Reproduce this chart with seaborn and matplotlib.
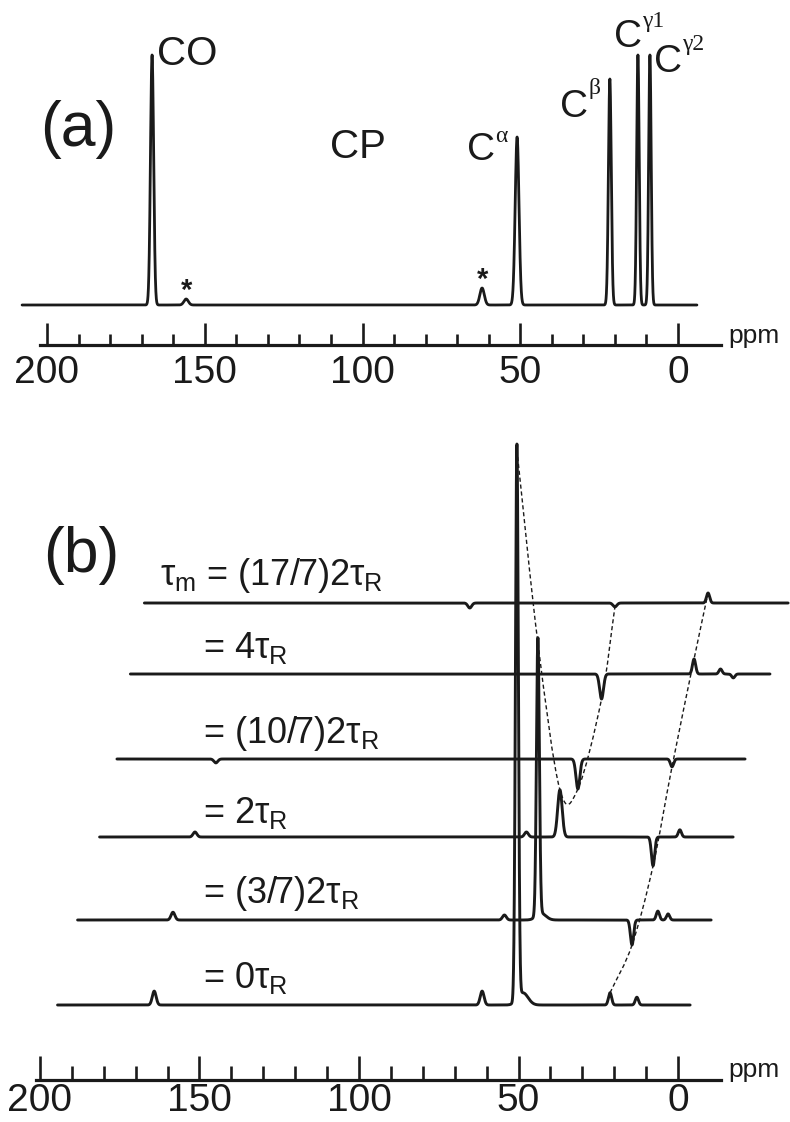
import numpy as np
import pandas as pd
import matplotlib
matplotlib.use("Agg")
import matplotlib.pyplot as plt
import seaborn as sns
from matplotlib.path import Path
from matplotlib.patches import PathPatch
from matplotlib.ticker import FixedLocator, FixedFormatter

# ---------------- data: panel (a) CP spectrum ----------------
cp_peak_ppm    = [166.7, 155.9, 62.1, 51.0, 21.6, 12.7, 8.9]
cp_peak_height = [1.000, 0.024, 0.068, 0.672, 0.904, 1.000, 1.000]
cp_peak_width  = [0.50, 0.70, 0.70, 0.60, 0.45, 0.40, 0.40]
cp_range_ppm   = [207.9, -6.0]
site_base      = ["CO", "C", "C", "C", "C"]
site_sup       = ["", "\u03b1", "\u03b2", "\u03b31", "\u03b32"]
site_peak_idx  = [0, 3, 4, 5, 6]
sideband_idx   = [1, 2]

# ---------------- data: panel (b) mixing-time series ----------------
mix_labels = [r"= 0$\tau_\mathrm{R}$",
              r"= (3/7)2$\tau_\mathrm{R}$",
              r"= 2$\tau_\mathrm{R}$",
              r"= (10/7)2$\tau_\mathrm{R}$",
              r"= 4$\tau_\mathrm{R}$",
              r"$\tau_\mathrm{m}$ = (17/7)2$\tau_\mathrm{R}$"]
mix_peak_ppm = [
    [164.2, 61.4, 50.5, 48.6, 21.3, 12.9],
    [164.9, 61.0, 50.5, 49.5, 21.0, 12.9, 9.7],
    [164.9, 61.0, 50.5, 21.3, 12.9],
    [164.0, 50.5, 21.0],
    [50.3, 21.3, 13.0, 9.0],
    [96.0, 50.5, 21.3],
]
mix_peak_int = [
    [0.025, 0.025, 1.000, 0.022, 0.022, 0.014],
    [0.014, 0.009, 0.499, 0.012, -0.045, 0.016, 0.011],
    [0.009, 0.009, 0.085, -0.052, 0.013],
    [-0.007, -0.054, -0.014],
    [-0.045, 0.027, 0.009, -0.007],
    [-0.009, -0.007, 0.018],
]
mix_peak_width = [
    [0.6, 0.6, 0.45, 1.6, 0.5, 0.5],
    [0.6, 0.6, 0.45, 1.5, 0.5, 0.5, 0.5],
    [0.6, 0.6, 0.70, 0.5, 0.5],
    [0.6, 0.6, 0.5],
    [0.6, 0.5, 0.5, 0.5],
    [0.6, 0.6, 0.5],
]
mix_range_ppm = [[194.5, -3.8], [194.8, -3.8], [194.8, -3.8],
                 [195.0, -1.9], [198.0, -2.5], [198.0, -3.8]]
ca_ppm, cb_ppm = 50.5, 21.3   # peaks followed by the dashed guides

axis_major = [200, 150, 100, 50, 0]
axis_major_labels = ["200", "150", "100", "50", "0"]
axis_minor = list(range(0, 201, 10))

# ---------------- layout (pixels) ----------------
W, H = 790, 1122
trace_base_px = [1005, 920, 837, 759, 674, 603]
trace_shift_px = [0, 21, 43, 61, 84, 98]
label_base_px = [988, 903, 823, 743, 658, 585]
label_left_px = [203, 203, 203, 203, 203, 160]

sns.set_theme(style="white")
plt.rcParams["font.family"] = ["Liberation Sans", "DejaVu Sans"]
plt.rcParams["mathtext.fontset"] = "custom"
plt.rcParams["mathtext.rm"] = "Liberation Sans"
plt.rcParams["mathtext.it"] = "Liberation Sans"
plt.rcParams["mathtext.sf"] = "Liberation Sans"
plt.rcParams["mathtext.bf"] = "Liberation Sans:bold"

INK = "#1a1a1a"
fig = plt.figure(figsize=(W / 100, H / 100), dpi=100)
fig.patch.set_facecolor("white")


def fx(px):
    return px / W


def fy(py):
    return 1 - py / H


def gauss_sum(grid, centers, heights, widths):
    out = np.zeros_like(grid)
    for c, h, w in zip(centers, heights, widths):
        out += h * np.exp(-0.5 * ((grid - c) / w) ** 2)
    return out


def style_axis(ax, bounds, major_len, minor_len, pad):
    for s in ["top", "left", "right"]:
        ax.spines[s].set_visible(False)
    sp = ax.spines["bottom"]
    sp.set_linewidth(2.3)
    sp.set_color(INK)
    sp.set_bounds(*bounds)
    ax.xaxis.set_major_locator(FixedLocator(axis_major))
    ax.xaxis.set_major_formatter(FixedFormatter(axis_major_labels))
    ax.xaxis.set_minor_locator(FixedLocator(axis_minor))
    ax.tick_params(axis="x", which="major", direction="in", length=major_len * 0.72,
                   width=1.9, color=INK, pad=pad, labelsize=28, labelcolor=INK,
                   bottom=True)
    ax.tick_params(axis="x", which="minor", direction="in", length=minor_len * 0.72,
                   width=1.9, color=INK, bottom=True)
    ax.tick_params(axis="y", left=False, labelleft=False)
    ax.set_xlabel("")
    ax.set_ylabel("")
    ax.set_yticks([])
    ax.patch.set_alpha(0)


# ================= panel (a) =================
a_line, a_base, a_scale = 345, 305, 250
ax_a = fig.add_axes([0, fy(a_line), 1, a_line / H])
grid_a = np.linspace(cp_range_ppm[0], cp_range_ppm[1], 12000)
df_a = pd.DataFrame({"ppm": grid_a,
                     "y": gauss_sum(grid_a, cp_peak_ppm, cp_peak_height, cp_peak_width)})
sns.lineplot(data=df_a, x="ppm", y="y", ax=ax_a, color=INK, lw=2.0,
             estimator=None, sort=False)
ax_a.set_xlim(200 + 47 / 3.155, -(W - 678) / 3.155)
ax_a.set_ylim((a_base - a_line) / a_scale, a_base / a_scale)
style_axis(ax_a, (202.2, -13.6), 22, 11, 7)

# site labels: offsets in px relative to the peak tip; superscript rise in px
base_off = [(5, -10), (-50, -23), (-50, -38), (-24, 8), (4, -17)]
base_size = [29, 28, 28, 28, 28]
sup_rise = [0, 26, 31, 28, 30]
for name, sup, idx, bo, fs, rise in zip(site_base, site_sup, site_peak_idx,
                                        base_off, base_size, sup_rise):
    tip = (cp_peak_ppm[idx], cp_peak_height[idx])
    c_txt = ax_a.annotate(name, xy=tip, xytext=(bo[0] * 0.72, bo[1] * 0.72),
                          textcoords="offset points", ha="left", va="baseline",
                          fontsize=fs, color=INK)
    if sup:
        ax_a.annotate(sup, xy=(1, 0), xycoords=c_txt, xytext=(0.3, rise * 0.72),
                      textcoords="offset points", ha="left", va="baseline",
                      fontsize=17, color=INK,
                      family=["Liberation Serif", "DejaVu Serif"])
for idx in sideband_idx:
    ax_a.annotate("*", xy=(cp_peak_ppm[idx], cp_peak_height[idx]), xytext=(0, 0),
                  textcoords="offset points", ha="center", va="baseline",
                  fontsize=21, fontweight="bold", color=INK)

fig.text(fx(40), fy(146), "(a)", fontsize=45, ha="left", va="baseline", color=INK)
fig.text(fx(330), fy(158), "CP", fontsize=29, ha="left", va="baseline", color=INK)
fig.text(fx(728), fy(a_line - 2), "ppm", fontsize=19, ha="left", va="baseline", color=INK)

# ================= panel (b) =================
b_top, b_line, b_scale, b_ppx = 420, 1080, 555, 3.19
ax_b = fig.add_axes([0, fy(b_line), 1, (b_line - b_top) / H])
rows = []
tips_ca, tips_cb = [], []
for k in range(len(mix_labels)):
    off = (b_line - trace_base_px[k]) / b_scale
    shift = trace_shift_px[k] / b_ppx
    g = np.linspace(mix_range_ppm[k][0], mix_range_ppm[k][1], 12000)
    s = gauss_sum(g, mix_peak_ppm[k], mix_peak_int[k], mix_peak_width[k])
    rows.append(pd.DataFrame({"ppm": g - shift, "y": s + off, "trace": k}))
    for target, store in ((ca_ppm, tips_ca), (cb_ppm, tips_cb)):
        j = int(np.argmin(np.abs(np.array(mix_peak_ppm[k]) - target)))
        store.append((mix_peak_ppm[k][j] - shift, off + mix_peak_int[k][j]))
df_b = pd.concat(rows, ignore_index=True)
sns.lineplot(data=df_b, x="ppm", y="y", units="trace", estimator=None, sort=False,
             ax=ax_b, color=INK, lw=2.1)
ax_b.set_xlim(200 + 40 / b_ppx, -(W - 678) / b_ppx)
ax_b.set_ylim(0, (b_line - b_top) / b_scale)
style_axis(ax_b, (201.3, -13.5), 24, 14, 2.5)
if ax_b.get_legend():
    ax_b.get_legend().remove()


def guide(points):
    P = np.array(points, dtype=float)
    n = len(P)
    T = np.zeros_like(P)
    T[0] = P[1] - P[0]
    T[-1] = P[-1] - P[-2]
    for i in range(1, n - 1):
        T[i] = (P[i + 1] - P[i - 1]) / 2
    verts = [P[0]]
    codes = [Path.MOVETO]
    for i in range(n - 1):
        verts += [P[i] + T[i] / 3, P[i + 1] - T[i + 1] / 3, P[i + 1]]
        codes += [Path.CURVE4] * 3
    return PathPatch(Path(verts, codes), fill=False, ec=INK, lw=1.0,
                     ls=(0, (3, 2)), transform=ax_b.transData)


ax_b.add_patch(guide(tips_ca))
ax_b.add_patch(guide(tips_cb))

for lab, lx, ly in zip(mix_labels, label_left_px, label_base_px):
    fig.text(fx(lx), fy(ly), lab, fontsize=26, ha="left", va="baseline", color=INK)

fig.text(fx(43), fy(572), "(b)", fontsize=45, ha="left", va="baseline", color=INK)
fig.text(fx(728), fy(b_line - 3), "ppm", fontsize=19, ha="left", va="baseline", color=INK)

fig.savefig("out.png", dpi=100, facecolor="white")
